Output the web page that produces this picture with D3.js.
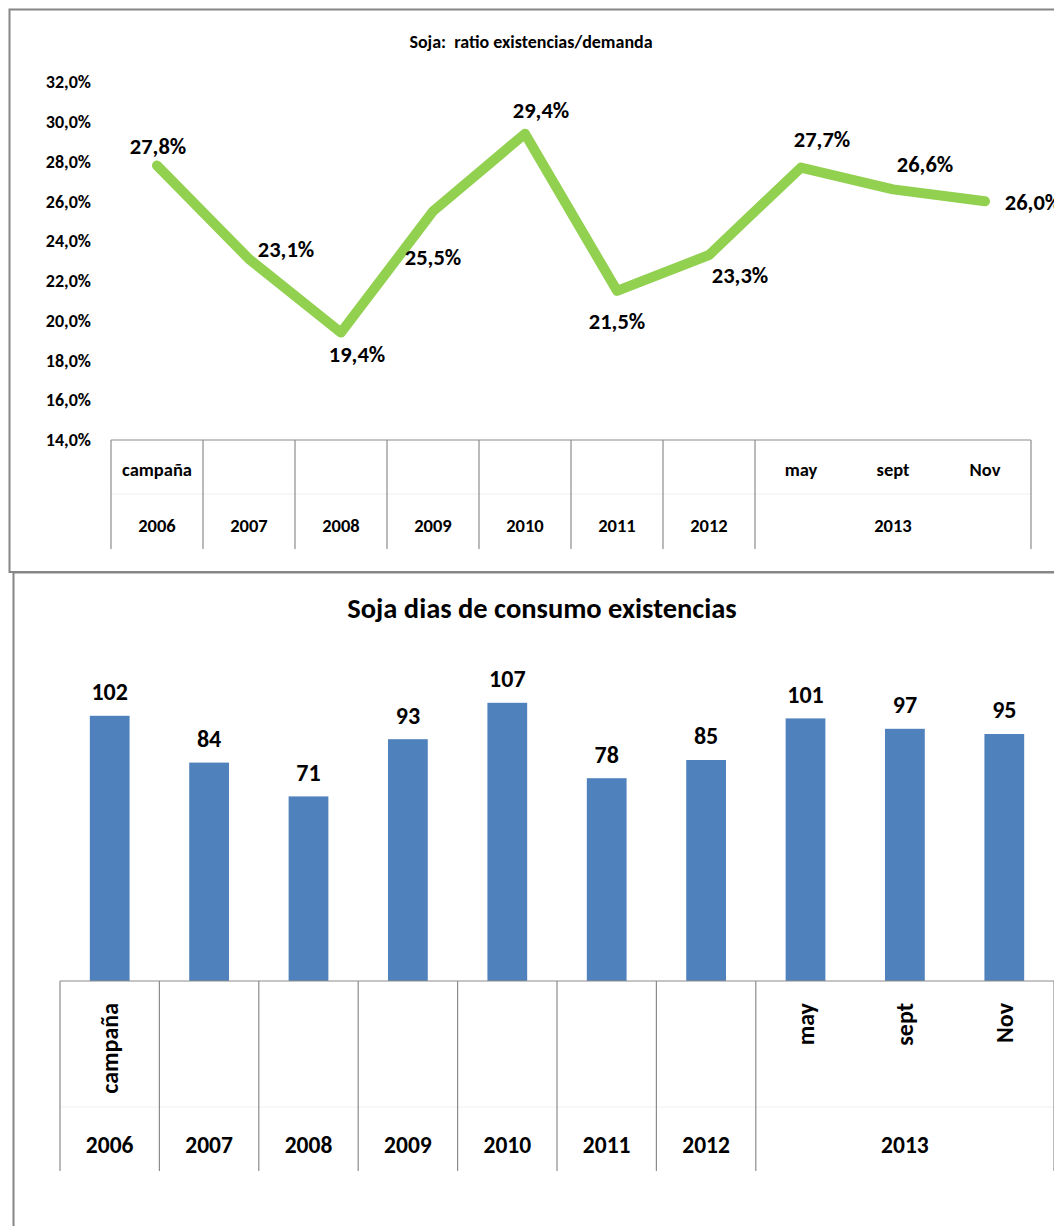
<!DOCTYPE html>
<html>
<head>
<meta charset="utf-8">
<script src="https://cdn.jsdelivr.net/npm/d3@7"></script>
<style>
	body { margin: 0; background: #fff; }
	svg { display: block; font-family: Carlito, Calibri, Lato, "Open Sans", sans-serif; font-weight: bold; }
	.frame { fill: none; stroke: #868686; stroke-width: 2; }
	.table-line { stroke: #8c8c8c; stroke-width: 1.2; }
</style>
</head>
<body>
<div id="chart"></div>
<script>
// data
var subLabels = ["campaña", "", "", "", "", "", "", "may", "sept", "Nov"];
var yearLabels = ["2006", "2007", "2008", "2009", "2010", "2011", "2012", "2013"];
var yearSpans = [1, 1, 1, 1, 1, 1, 1, 3];
var ratioValues = [27.8, 23.1, 19.4, 25.5, 29.4, 21.5, 23.3, 27.7, 26.6, 26.0];
var daysValues = [102, 84, 71, 93, 107, 78, 85, 101, 97, 95];
var ratioTicks = [14, 16, 18, 20, 22, 24, 26, 28, 30, 32];

// label placement (pixels) for the line chart
var ratioLabelOffset = [[1, -19], [37, -10], [16, 22], [0, 46], [16, -24], [0, 30], [31, 20], [21, -28], [32, -25], [48, 1]];

var W = 1054, H = 1226;
var fmt = function(v) { return v.toFixed(1).replace(".", ",") + "%"; };

var svg = d3.select("#chart").append("svg")
	.attr("width", W)
	.attr("height", H);

/* ---------------- top chart: ratio ---------------- */
var ratioG = svg.append("g");

ratioG.append("path")
	.attr("class", "frame")
	.attr("d", "M1060,9.5 H9.5 V572 H1060");

ratioG.append("text")
	.attr("x", 531)
	.attr("y", 42)
	.attr("dy", "0.35em")
	.attr("text-anchor", "middle")
	.attr("font-size", 18)
	.style("white-space", "pre")
	.text("Soja:  ratio existencias/demanda");

var x1 = d3.scaleBand()
	.domain(d3.range(ratioValues.length))
	.range([111, 1031]);

var y1 = d3.scaleLinear()
	.domain([14, 32])
	.range([440, 82]);

// y axis labels only
var yAxis1 = d3.axisLeft(y1)
	.tickValues(ratioTicks)
	.tickSize(0)
	.tickPadding(0)
	.tickFormat(fmt);

var yg = ratioG.append("g")
	.attr("transform", "translate(91,0)")
	.call(yAxis1)
	.attr("font-family", null)
	.attr("font-size", 18);
yg.select(".domain").remove();
yg.selectAll("text")
	.attr("fill", "#000");

// category table
function drawTable(g, x, yTop, yMid, yBot, subY, yearY, subFont, yearFont, rotateSub) {
	var bw = x.bandwidth();
	var r = x.range();
	g.append("line").attr("class", "table-line")
		.attr("x1", r[0]).attr("x2", r[1]).attr("y1", yTop).attr("y2", yTop);
	g.append("line")
		.attr("x1", r[0]).attr("x2", r[1]).attr("y1", yMid).attr("y2", yMid)
		.attr("stroke", "#f0f0f0");
	var idx = 0;
	var bounds = [0];
	yearSpans.forEach(function(s) { idx += s; bounds.push(idx); });
	g.selectAll(".divider")
		.data(bounds)
		.enter()
		.append("line")
		.attr("class", "table-line")
		.attr("x1", function(d) { return r[0] + d * bw; })
		.attr("x2", function(d) { return r[0] + d * bw; })
		.attr("y1", yTop)
		.attr("y2", yBot);

	g.selectAll(".sub")
		.data(subLabels)
		.enter()
		.append("text")
		.attr("font-size", subFont)
		.attr("transform", function(d, i) {
			var cx = x(i) + bw / 2;
			return rotateSub ? "translate(" + cx + "," + subY + ") rotate(-90)" : "translate(" + cx + "," + subY + ")";
		})
		.attr("text-anchor", rotateSub ? "end" : "middle")
		.attr("dy", "0.35em")
		.text(function(d) { return d; });

	var start = 0;
	yearLabels.forEach(function(lbl, k) {
		var cx = r[0] + (start + yearSpans[k] / 2) * bw;
		start += yearSpans[k];
		g.append("text")
			.attr("x", cx)
			.attr("y", yearY)
			.attr("dy", "0.35em")
			.attr("text-anchor", "middle")
			.attr("font-size", yearFont)
			.text(lbl);
	});
}

drawTable(ratioG.append("g"), x1, 440, 494, 549, 470, 526, 18.5, 18.5, false);

var line = d3.line()
	.x(function(d, i) { return x1(i) + x1.bandwidth() / 2; })
	.y(function(d) { return y1(d); });

ratioG.append("path")
	.datum(ratioValues)
	.attr("d", line)
	.attr("fill", "none")
	.attr("stroke", "#92D050")
	.attr("stroke-width", 10)
	.attr("stroke-linecap", "round")
	.attr("stroke-linejoin", "round");

ratioG.selectAll(".ratio-label")
	.data(ratioValues)
	.enter()
	.append("text")
	.attr("x", function(d, i) { return x1(i) + x1.bandwidth() / 2 + ratioLabelOffset[i][0]; })
	.attr("y", function(d, i) { return y1(d) + ratioLabelOffset[i][1]; })
	.attr("dy", "0.35em")
	.attr("text-anchor", "middle")
	.attr("font-size", 22.5)
	.text(fmt);

/* ---------------- bottom chart: days ---------------- */
var daysG = svg.append("g");

daysG.append("path")
	.attr("class", "frame")
	.attr("d", "M1060,572.5 H13.5 V1230");

daysG.append("text")
	.attr("x", 542)
	.attr("y", 608)
	.attr("dy", "0.35em")
	.attr("text-anchor", "middle")
	.attr("font-size", 28.5)
	.text("Soja dias de consumo existencias");

var x2 = d3.scaleBand()
	.domain(d3.range(daysValues.length))
	.range([60, 1054]);

var y2 = d3.scaleLinear()
	.domain([0, 120])
	.range([981, 669]);

var bw2 = x2.bandwidth() * 0.4;

daysG.selectAll(".bar")
	.data(daysValues)
	.enter()
	.append("rect")
	.attr("x", function(d, i) { return x2(i) + (x2.bandwidth() - bw2) / 2; })
	.attr("y", function(d) { return y2(d); })
	.attr("width", bw2)
	.attr("height", function(d) { return y2(0) - y2(d); })
	.attr("fill", "#4F81BD");

daysG.selectAll(".bar-label")
	.data(daysValues)
	.enter()
	.append("text")
	.attr("x", function(d, i) { return x2(i) + x2.bandwidth() / 2; })
	.attr("y", function(d) { return y2(d) - 24; })
	.attr("dy", "0.35em")
	.attr("text-anchor", "middle")
	.attr("font-size", 24)
	.text(function(d) { return d; });

drawTable(daysG.append("g"), x2, 981, 1107, 1171, 1003, 1145, 24, 23.5, true);
</script>
</body>
</html>
